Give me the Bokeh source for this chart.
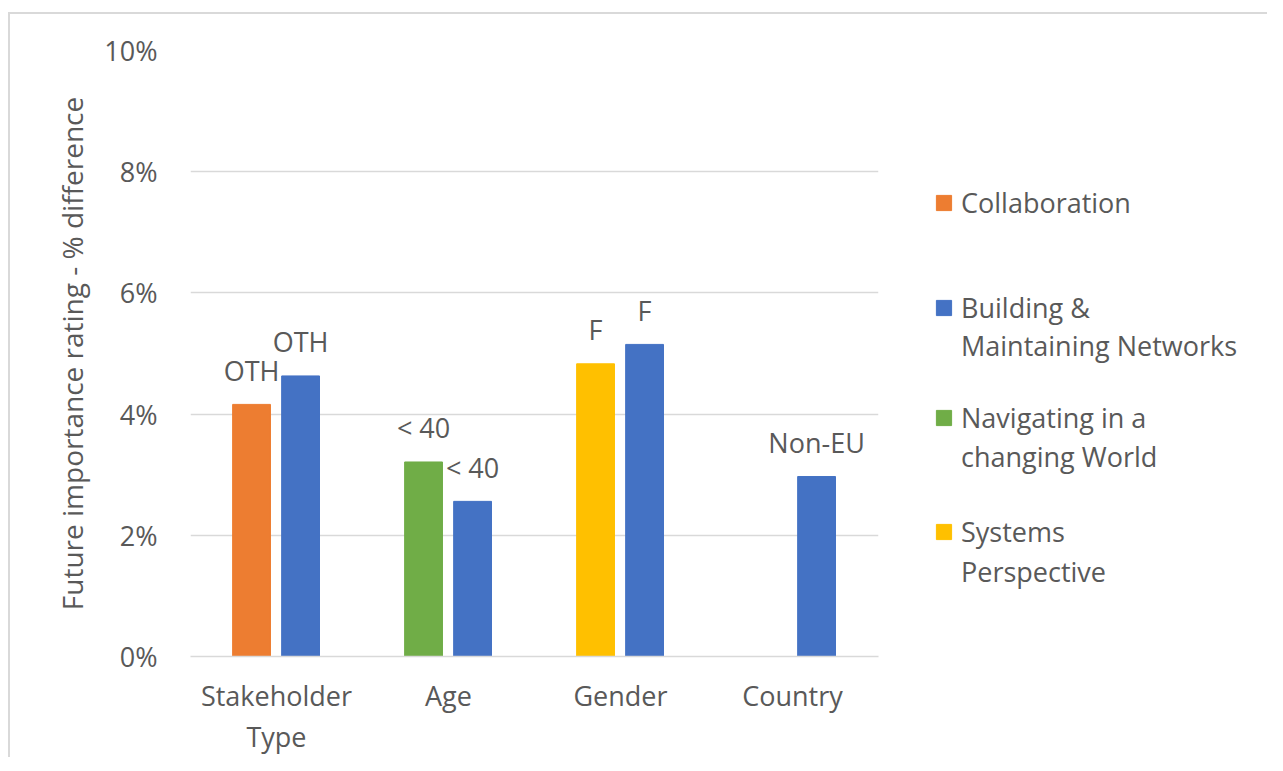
from bokeh.plotting import figure
from bokeh.layouts import row
from bokeh.models import (ColumnDataSource, FactorRange, Range1d, FixedTicker,
                          PrintfTickFormatter, Legend, LegendItem)
from bokeh.transform import dodge
from bokeh.core.properties import value
from bokeh.embed import file_html
from bokeh.resources import INLINE

# ---- data ----
categories = ["Stakeholder\nType", "Age", "Gender", "Country"]
collaboration = [4.16, None, None, None]
navigating = [None, 3.21, None, None]
systems = [None, None, 4.83, None]
building = [4.63, 2.56, 5.15, 2.97]
left_labels = ["OTH", "< 40", "F", ""]
right_labels = ["OTH", "< 40", "F", "Non-EU"]
y_ticks = [0, 2, 4, 6, 8, 10]
series_names = ["Collaboration", "Building &\nMaintaining Networks",
                "Navigating in a\nchanging World", "Systems\nPerspective"]
colors = ["#ED7D31", "#4472C4", "#70AD47", "#FFC000"]

FONT = "Open Sans"
TXT = "#595959"
FS = "27px"
H = 755


def src(vals, labels):
    c, v, l = [], [], []
    for cat, val, lab in zip(categories, vals, labels):
        if val is not None:
            c.append(cat); v.append(val); l.append(lab)
    return ColumnDataSource(dict(cat=c, val=v, lab=l))


p = figure(x_range=FactorRange(factors=categories, range_padding=0),
           y_range=Range1d(0, 10),
           frame_width=688, frame_height=606,
           min_border_left=190, min_border_right=20,
           min_border_top=50, min_border_bottom=H - 50 - 606,
           output_backend="svg", toolbar_location=None)
p.outline_line_color = None
p.background_fill_alpha = 0
p.border_fill_alpha = 0

p.xgrid.grid_line_color = None
p.ygrid.grid_line_color = "#D9D9D9"
p.ygrid.grid_line_width = 1.3
p.yaxis.ticker = FixedTicker(ticks=y_ticks)
p.yaxis.formatter = PrintfTickFormatter(format="%d%%")
for ax in (p.xaxis, p.yaxis):
    ax.major_tick_line_color = None
    ax.minor_tick_line_color = None
    ax.major_label_text_font = FONT
    ax.major_label_text_font_size = FS
    ax.major_label_text_color = TXT
p.yaxis.axis_line_color = None
p.yaxis.major_label_standoff = 27
p.yaxis.axis_label = "Future importance rating - % difference"
p.yaxis.axis_label_text_font = FONT
p.yaxis.axis_label_text_font_size = "28px"
p.yaxis.axis_label_text_font_style = "normal"
p.yaxis.axis_label_text_color = TXT
p.yaxis.axis_label_standoff = 10
p.xaxis.axis_line_color = "#D9D9D9"
p.xaxis.axis_line_width = 1.3
p.xaxis.major_label_standoff = 14
p.xaxis.major_label_text_line_height = 1.12

LEFT, RIGHT, W = -0.145, 0.14, 0.22

renderers = []
for vals, col in ((collaboration, colors[0]), (navigating, colors[2]), (systems, colors[3])):
    s = src(vals, left_labels)
    r = p.vbar(x=dodge("cat", LEFT, range=p.x_range), top="val", width=W,
               source=s, fill_color=col, line_color=col)
    p.text(x=dodge("cat", LEFT, range=p.x_range), y="val", text="lab", source=s,
           text_font=value(FONT), text_font_size=FS, text_color=TXT,
           text_align="center", text_baseline="middle", y_offset=-34)
    renderers.append(r)
sb = src(building, right_labels)
rb = p.vbar(x=dodge("cat", RIGHT, range=p.x_range), top="val", width=W,
            source=sb, fill_color=colors[1], line_color=colors[1])
p.text(x=dodge("cat", RIGHT, range=p.x_range), y="val", text="lab", source=sb,
       text_font=value(FONT), text_font_size=FS, text_color=TXT,
       text_align="center", text_baseline="middle", y_offset=-34)

# ---- legend panel (each label line placed separately; swatch on first line) ----
LW = 1267 - 898
q = figure(width=LW, height=H, x_range=Range1d(0, LW), y_range=Range1d(0, H),
           min_border=0, output_backend="svg", toolbar_location=None)
q.axis.visible = False
q.grid.visible = False
q.outline_line_color = None
q.background_fill_alpha = 0
q.border_fill_alpha = 0

line_centers = [[203], [308, 346], [418, 457], [532, 572]]


def add_legend_line(text, col, alpha, center):
    sw = q.vbar(x=[1e6], top=[1], width=1, fill_color=col, line_color=col,
                fill_alpha=alpha, line_alpha=alpha)
    lg = Legend(items=[LegendItem(label=text, renderers=[sw])],
                location=(36, 636 - center),
                padding=0, margin=0, border_line_color=None,
                background_fill_alpha=0, glyph_width=19, glyph_height=19,
                label_standoff=8, label_text_font=FONT, label_text_font_size=FS,
                label_text_color=TXT)
    q.add_layout(lg, "center")


for name, col, centers in zip(series_names, colors, line_centers):
    for i, (txt, c) in enumerate(zip(name.split("\n"), centers)):
        add_legend_line(txt, col, 1.0 if i == 0 else 0.0, c)

layout = row(p, q, spacing=0)
layout.styles = {
    "background-image": "linear-gradient(#D9D9D9,#D9D9D9), linear-gradient(#D9D9D9,#D9D9D9)",
    "background-size": "2px 100%, 100% 2px",
    "background-position": "8px 12px, 8px 12px",
    "background-repeat": "no-repeat",
    "background-color": "white",
}

open("out.html", "w").write(file_html(layout, INLINE))
